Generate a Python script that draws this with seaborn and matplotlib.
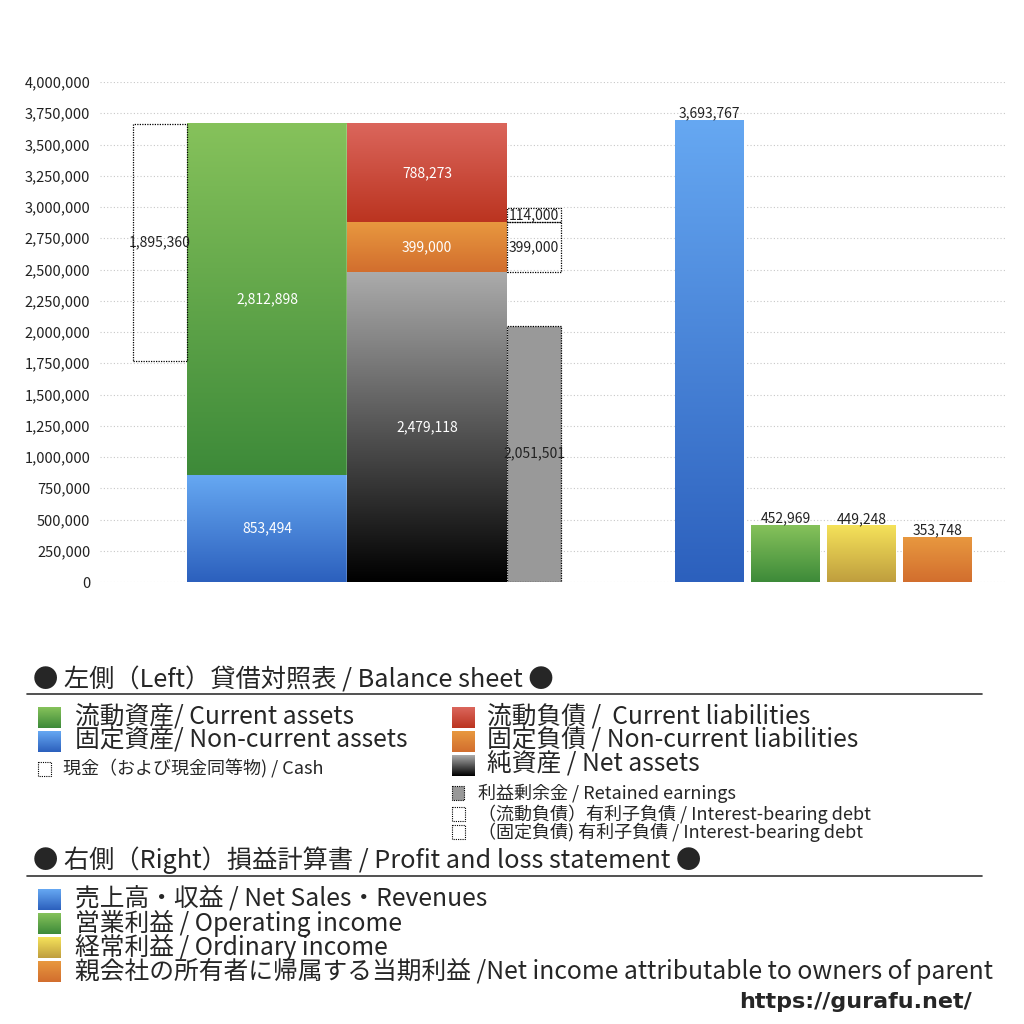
import numpy as np
import matplotlib
matplotlib.use("Agg")
import matplotlib.pyplot as plt
import seaborn as sns
from matplotlib.colors import LinearSegmentedColormap
from matplotlib.ticker import FuncFormatter

# balance sheet (left)
current_assets = 2812898
noncurrent_assets = 853494
cash = 1895360
current_liabilities = 788273
noncurrent_liabilities = 399000
net_assets = 2479118
retained_earnings = 2051501
ib_debt_current = 114000
ib_debt_noncurrent = 399000

# profit and loss (right)
pl_labels = ["売上高・収益", "営業利益", "経常利益", "当期利益"]
pl_values = [3693767, 452969, 449248, 353748]

yticks = np.arange(0, 4000001, 250000)

GREEN = ("#86c25b", "#3d8a39")
BLUE = ("#66a8f2", "#2c60bd")
RED = ("#db665c", "#bb3420")
ORANGE = ("#e8983f", "#d26e2e")
BLACK = ("#ababab", "#000000")
YELLOW = ("#f5e25a", "#bf9e3e")
pl_colors = [BLUE, GREEN, YELLOW, ORANGE]

sns.set_theme(style="white")
plt.rcParams["font.family"] = ["Noto Sans CJK JP", "DejaVu Sans"]


def gradient_fill(ax, bars, colors):
    cmap = LinearSegmentedColormap.from_list("g", [colors[1], colors[0]])
    grad = np.linspace(0, 1, 256).reshape(-1, 1)
    for b in bars:
        x0, y0 = b.get_x(), b.get_y()
        ax.imshow(grad, cmap=cmap, origin="lower", aspect="auto",
                  extent=(x0, x0 + b.get_width(), y0, y0 + b.get_height()),
                  zorder=2)
        b.set_facecolor("none")


fig = plt.figure(figsize=(10.24, 10.24), dpi=100)
ax = fig.add_axes([100 / 1024, 1 - 582 / 1024, 905 / 1024, 500 / 1024])

lab = dict(fontsize=10)

# cash (dotted box, top aligned to total assets)
total_assets = current_assets + noncurrent_assets
b = ax.bar(60, cash, width=54, bottom=total_assets - cash, fill=False,
           edgecolor="black", linestyle=(0, (1, 1)), linewidth=0.9, zorder=3)
ax.bar_label(b, labels=[f"{cash:,}"], label_type="center", color="#222222", **lab)

# assets
b1 = ax.bar(167, noncurrent_assets, width=160, zorder=2)
b2 = ax.bar(167, current_assets, width=160, bottom=noncurrent_assets, zorder=2)
gradient_fill(ax, b1, BLUE)
gradient_fill(ax, b2, GREEN)
ax.bar_label(b1, labels=[f"{noncurrent_assets:,}"], label_type="center", color="white", **lab)
ax.bar_label(b2, labels=[f"{current_assets:,}"], label_type="center", color="white", **lab)

# liabilities + net assets
c1 = ax.bar(327, net_assets, width=160, zorder=2)
c2 = ax.bar(327, noncurrent_liabilities, width=160, bottom=net_assets, zorder=2)
c3 = ax.bar(327, current_liabilities, width=160,
            bottom=net_assets + noncurrent_liabilities, zorder=2)
gradient_fill(ax, c1, BLACK)
gradient_fill(ax, c2, ORANGE)
gradient_fill(ax, c3, RED)
for bb, v in [(c1, net_assets), (c2, noncurrent_liabilities), (c3, current_liabilities)]:
    ax.bar_label(bb, labels=[f"{v:,}"], label_type="center", color="white", **lab)

# retained earnings and interest-bearing debt
d1 = ax.bar(434, retained_earnings, width=54, color="#999999", edgecolor="black",
            linestyle=(0, (1, 1)), linewidth=0.9, zorder=3)
d2 = ax.bar(434, ib_debt_noncurrent, width=54, bottom=net_assets, fill=False,
            edgecolor="black", linestyle=(0, (1, 1)), linewidth=0.9, zorder=3)
d3 = ax.bar(434, ib_debt_current, width=54, bottom=net_assets + ib_debt_noncurrent,
            fill=False, edgecolor="black", linestyle=(0, (1, 1)), linewidth=0.9, zorder=3)
for bb, v in [(d1, retained_earnings), (d2, ib_debt_noncurrent), (d3, ib_debt_current)]:
    ax.bar_label(bb, labels=[f"{v:,}"], label_type="center", color="#222222", **lab)

# profit and loss bars
pl_x = [609.5, 685.5, 761.5, 837.5]
for xpos, v, col in zip(pl_x, pl_values, pl_colors):
    bb = ax.bar(xpos, v, width=69, zorder=2)
    gradient_fill(ax, bb, col)
    ax.bar_label(bb, labels=[f"{v:,}"], padding=0, color="#222222", **lab)

ax.set_xlim(0, 905)
ax.set_ylim(0, 4000000)
ax.set_yticks(yticks)
ax.yaxis.set_major_formatter(FuncFormatter(lambda v, p: f"{int(v):,}"))
ax.tick_params(axis="y", labelsize=10.5, colors="#222222", pad=7, length=0)
ax.set_xticks([])
ax.grid(axis="y", linestyle=(0, (1, 2)), color="#c8c8c8", linewidth=0.8, zorder=0)
ax.set_axisbelow(True)
for s in ax.spines.values():
    s.set_visible(False)

# legend area drawn in pixel coordinates
ov = fig.add_axes([0, 0, 1, 1])
ov.set_xlim(0, 1024)
ov.set_ylim(1024, 0)
ov.axis("off")


def swatch(x, y, w, h, colors=None, flat=None, dotted=False):
    if colors is not None:
        cmap = LinearSegmentedColormap.from_list("s", [colors[0], colors[1]])
        grad = np.linspace(0, 1, 64).reshape(-1, 1)
        ov.imshow(grad, cmap=cmap, aspect="auto", extent=(x, x + w, y + h, y),
                  origin="upper")
    if flat is not None or dotted:
        ov.add_patch(plt.Rectangle((x, y), w, h, facecolor=flat if flat else "none",
                                   edgecolor="black" if dotted else "none",
                                   linestyle=(0, (1, 1)), linewidth=0.8))


big = 17.8
small = 13
ov.text(33, 680, "● 左側（Left）貸借対照表 / Balance sheet ●", fontsize=18.2, va="center")
ov.plot([27, 982], [694, 694], color="#333333", lw=1.2)

swatch(38, 707, 23, 21, GREEN)
ov.text(75, 717, "流動資産/ Current assets", fontsize=big, va="center")
swatch(38, 731, 23, 21, BLUE)
ov.text(75, 741, "固定資産/ Non-current assets", fontsize=big, va="center")
swatch(38, 762, 13, 14, dotted=True)
ov.text(63, 769, "現金（および現金同等物) / Cash", fontsize=small, va="center")

swatch(452, 707, 23, 21, RED)
ov.text(487, 717, "流動負債 /  Current liabilities", fontsize=big, va="center")
swatch(452, 731, 23, 21, ORANGE)
ov.text(487, 741, "固定負債 / Non-current liabilities", fontsize=big, va="center")
swatch(452, 755, 23, 21, BLACK)
ov.text(487, 765, "純資産 / Net assets", fontsize=big, va="center")
swatch(452, 786, 12, 14, flat="#999999", dotted=True)
ov.text(478, 793, "利益剰余金 / Retained earnings", fontsize=small, va="center")
swatch(452, 807, 13, 14, dotted=True)
ov.text(478, 814, "（流動負債）有利子負債 / Interest-bearing debt", fontsize=small, va="center")
swatch(452, 825, 13, 14, dotted=True)
ov.text(478, 832, "（固定負債) 有利子負債 / Interest-bearing debt", fontsize=small, va="center")

ov.text(33, 860, "● 右側（Right）損益計算書 / Profit and loss statement ●", fontsize=18.2, va="center")
ov.plot([27, 982], [876, 876], color="#333333", lw=1.2)

pl_legend = ["売上高・収益 / Net Sales・Revenues", "営業利益 / Operating income",
             "経常利益 / Ordinary income",
             "親会社の所有者に帰属する当期利益 /Net income attributable to owners of parent"]
for i, (t, col) in enumerate(zip(pl_legend, pl_colors)):
    yy = 899 + 24 * i
    swatch(38, yy - 10, 23, 21, col)
    ov.text(75, yy, t, fontsize=big, va="center")

ov.text(972, 1002, "https://gurafu.net/", fontsize=16, fontweight="bold", ha="right",
        va="center", family=["DejaVu Sans"])

fig.savefig("out.png", dpi=100)
